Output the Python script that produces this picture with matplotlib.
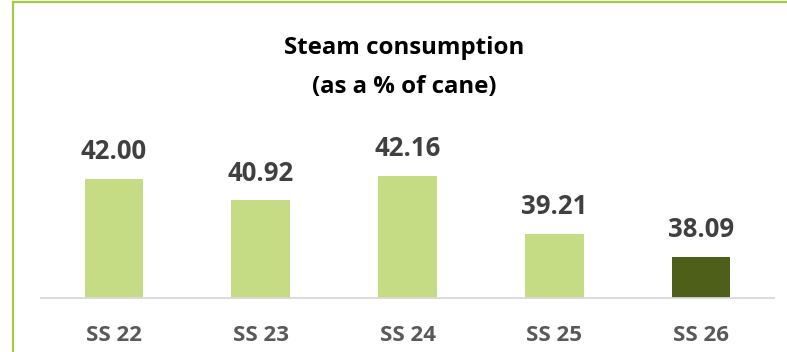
import matplotlib.pyplot as plt
from matplotlib.lines import Line2D

# steam consumption per season, % of cane
seasons = ["SS 22", "SS 23", "SS 24", "SS 25", "SS 26"]
steam_pct = [42.00, 40.92, 42.16, 39.21, 38.09]
bar_colors = ["#C5DC85", "#C5DC85", "#C5DC85", "#C5DC85", "#4E5F1A"]

plt.rcParams['font.family'] = ['Open Sans', 'DejaVu Sans']

W, H = 787, 352
fig = plt.figure(figsize=(W / 100, H / 100), dpi=100)

# axes placed in pixels: x 40..774, baseline at y=298
ax_l, ax_r, ax_b, ax_t = 40.6, 774.4, 298, 110
ax = fig.add_axes([ax_l / W, 1 - ax_b / H, (ax_r - ax_l) / W, (ax_b - ax_t) / H])

ymin = 36
px_per_unit = 119 / (42.00 - ymin)
ax.set_ylim(ymin, ymin + (ax_b - ax_t) / px_per_unit)
ax.set_xlim(-0.5, len(seasons) - 0.5)

x = range(len(seasons))
ax.bar(x, steam_pct, width=0.4, color=bar_colors, bottom=0, zorder=2)

for i, v in enumerate(steam_pct):
    ax.annotate(f"{v:.2f}", (i, v), xytext=(0, 10), textcoords="offset points",
                ha="center", va="bottom", fontsize=18.5, fontweight="bold", color="#404040")

for s in ["top", "right", "left"]:
    ax.spines[s].set_visible(False)
ax.spines["bottom"].set_color("#D9D9D9")
ax.spines["bottom"].set_linewidth(1.3)
ax.set_yticks([])
ax.set_xticks(list(x))
ax.set_xticklabels(seasons, fontsize=16, fontweight="bold", color="#595959")
ax.tick_params(axis="x", length=0, pad=19.5)

fig.text(404 / W, 1 - 54 / H, "Steam consumption", ha="center", va="baseline",
         fontsize=17.3, fontweight="bold", color="#000000")
fig.text(404 / W, 1 - 93 / H, "(as a % of cane)", ha="center", va="baseline",
         fontsize=17.3, fontweight="bold", color="#000000")

# green frame on left and top
fig.add_artist(Line2D([12.5 / W, 12.5 / W], [0, 1 - 1.5 / H], color="#A2CD3F", linewidth=1.6))
fig.add_artist(Line2D([12.5 / W, 1], [1 - 1.5 / H, 1 - 1.5 / H], color="#A2CD3F", linewidth=1.6))

fig.savefig("out.png", dpi=100)
